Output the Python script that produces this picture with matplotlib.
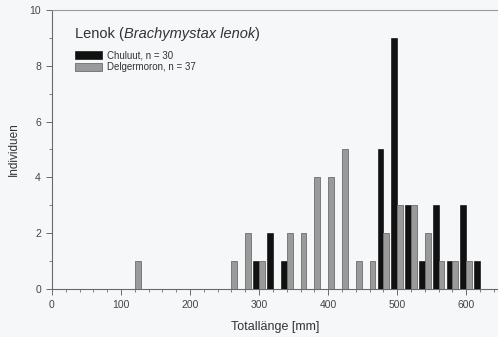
import matplotlib
matplotlib.use("Agg")
import matplotlib.pyplot as plt
from matplotlib.ticker import MultipleLocator

plt.rcParams['font.family'] = ['Liberation Sans', 'DejaVu Sans']

# Length classes (mm) and counts
chuluut_len = [300, 320, 340, 480, 500, 520, 540, 560, 580, 600, 620]
chuluut_n   = [1, 2, 1, 5, 9, 3, 1, 3, 1, 3, 1]
delger_len  = [120, 260, 280, 300, 340, 360, 380, 400, 420, 440, 460, 480, 500, 520, 540, 560, 580, 600]
delger_n    = [1, 1, 2, 1, 2, 2, 4, 4, 5, 1, 1, 2, 3, 3, 2, 1, 1, 1]

bg = '#f5f7f9'
fig = plt.figure(figsize=(4.98, 3.37), dpi=100, facecolor=bg)
ax = fig.add_axes([0.1044, 0.1424, 0.8956, 0.8280], facecolor=bg)

bw = 8.5
ax.bar(chuluut_len, chuluut_n, width=-bw, align='edge', color='#111111',
       edgecolor='#000000', linewidth=0.4, label='Chuluut, n = 30', zorder=3)
ax.bar(delger_len, delger_n, width=bw, align='edge', color='#9a9a9a',
       edgecolor='#6e6e6e', linewidth=0.6, label='Delgermoron, n = 37', zorder=3)

ax.set_xlim(0, 646)
ax.set_ylim(0, 10)
ax.xaxis.set_major_locator(MultipleLocator(100))
ax.xaxis.set_minor_locator(MultipleLocator(20))
ax.yaxis.set_major_locator(MultipleLocator(2))
ax.yaxis.set_minor_locator(MultipleLocator(1))

for s in ['left', 'bottom', 'top']:
    ax.spines[s].set_color('#6a6a6a')
    ax.spines[s].set_linewidth(0.8)
ax.spines['top'].set_color('#9a9a9a')
ax.spines['right'].set_visible(False)

ax.tick_params(which='major', direction='out', length=4, width=0.7, color='#6a6a6a',
               labelsize=7.5, labelcolor='#444444', pad=4)
ax.tick_params(which='minor', direction='out', length=2, width=0.6, color='#6a6a6a')

ax.set_xlabel('Totallänge [mm]', fontsize=9, color='#333333', labelpad=8)
ax.set_ylabel('Individuen', fontsize=8.5, color='#333333', labelpad=7)

ty = 0.915
t = ax.text(0.052, ty, 'Lenok (', transform=ax.transAxes, fontsize=10.5, color='#333333',
            va='center', ha='left')
fig.canvas.draw()
r = fig.canvas.get_renderer()
inv = ax.transAxes.inverted()
bb = t.get_window_extent(renderer=r)
x1 = inv.transform((bb.x1, bb.y0))[0]
t2 = ax.text(x1, ty, 'Brachymystax lenok', transform=ax.transAxes, fontsize=10.5,
             color='#333333', va='center', ha='left', style='italic')
bb2 = t2.get_window_extent(renderer=r)
x2 = inv.transform((bb2.x1, bb2.y0))[0]
ax.text(x2, ty, ')', transform=ax.transAxes, fontsize=10.5, color='#333333',
        va='center', ha='left')

leg = ax.legend(loc='upper left', bbox_to_anchor=(0.052, 0.855), frameon=False,
                fontsize=7, handlelength=2.8, handleheight=0.9, handletextpad=0.5,
                labelspacing=0.15, borderaxespad=0, borderpad=0)
for txt in leg.get_texts():
    txt.set_color('#333333')

fig.savefig('out.png', dpi=100, facecolor=bg)
